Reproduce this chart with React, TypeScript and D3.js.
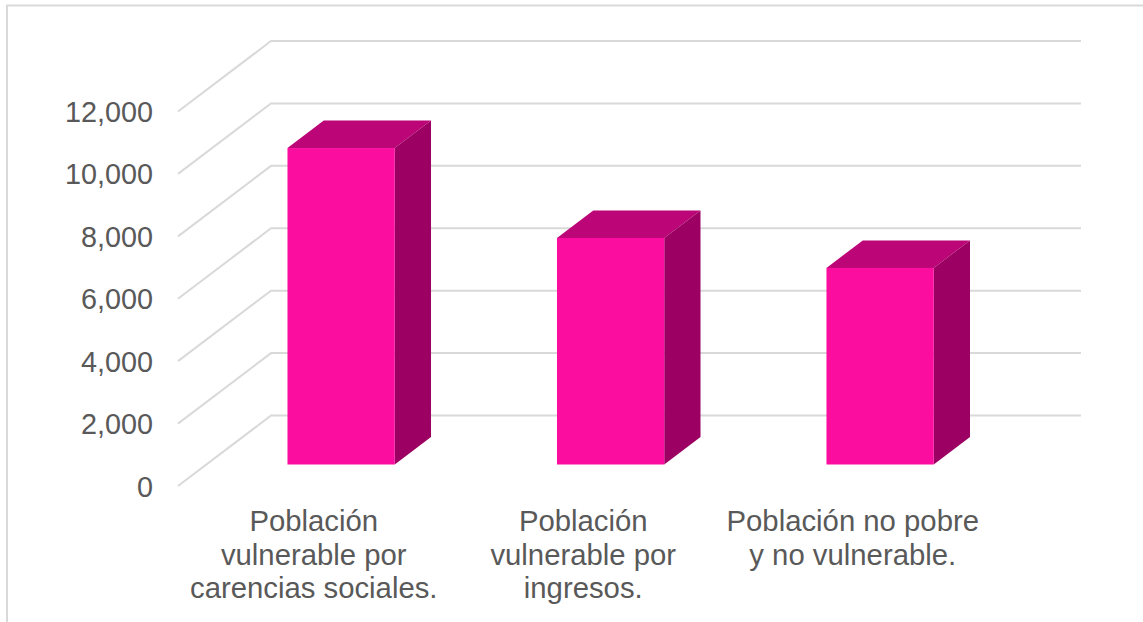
import React, { useEffect, useRef } from 'react';
import * as d3 from 'd3';

const categories = [
  ['Población', 'vulnerable por', 'carencias sociales.'],
  ['Población', 'vulnerable por', 'ingresos.'],
  ['Población no pobre', 'y no vulnerable.'],
];
const values = [10140, 7260, 6300];
const ticks = [0, 2000, 4000, 6000, 8000, 10000, 12000];

const width = 1143;
const height = 622;
// front plane of the 3D box, and how far the back wall is shifted
const plot = { left: 178, right: 988, top: 111.5, bottom: 486 };
const depth = { x: 93, y: -70.5 };
// bars sit in the middle of the floor, this is the share of depth before/after them
const barStart = 0.305;
const barEnd = 0.695;
const grid = '#d9d9d9';
const textColor = '#595959';
const font = '"Liberation Sans", Arial, sans-serif';

const App = () => {
  const chartRef = useRef<SVGSVGElement>(null);

  useEffect(() => {
    const svg = d3.select(chartRef.current);
    svg.selectAll('*').remove();

    const yScale = d3.scaleLinear().domain([0, 12000]).range([plot.bottom, plot.top]);
    const xScale = d3.scaleBand<number>()
      .domain(d3.range(values.length))
      .range([plot.left, plot.right - 1.5])
      .padding(0.602)
      .paddingOuter(0.301);

    // outer chart border, cropped by the picture on the right and bottom
    svg.append('path')
      .attr('d', `M7,${height}V5.5H${width}`)
      .attr('fill', 'none')
      .attr('stroke', grid)
      .attr('stroke-width', 2);

    svg.append('g').selectAll('path')
      .data(ticks)
      .enter()
      .append('path')
      .attr('d', d => `M${plot.left},${yScale(d)}L${plot.left + depth.x},${yScale(d) + depth.y}H${plot.right + depth.x}`)
      .attr('fill', 'none')
      .attr('stroke', grid)
      .attr('stroke-width', 2);

    svg.append('g').selectAll('text')
      .data(ticks)
      .enter()
      .append('text')
      .attr('x', 153)
      .attr('y', d => yScale(d))
      .attr('dy', '0.365em')
      .attr('text-anchor', 'end')
      .attr('font-family', font)
      .attr('font-size', 28.8)
      .attr('fill', textColor)
      .text(d => d3.format(',')(d));

    const bars = svg.append('g').selectAll('g')
      .data(values)
      .enter()
      .append('g');

    const x0 = (i: number) => xScale(i)! + depth.x * barStart;
    const x1 = (i: number) => x0(i) + xScale.bandwidth();
    const yBase = plot.bottom + depth.y * barStart;
    const yTop = (v: number) => yScale(v) + depth.y * barStart;
    const dx = depth.x * (barEnd - barStart);
    const dy = depth.y * (barEnd - barStart);

    // top face
    bars.append('path')
      .attr('d', (d, i) => `M${x0(i)},${yTop(d)}l${dx},${dy}H${x1(i) + dx}L${x1(i)},${yTop(d)}Z`)
      .attr('fill', '#bc0577');
    // side face
    bars.append('path')
      .attr('d', (d, i) => `M${x1(i)},${yTop(d)}l${dx},${dy}V${yBase + dy}L${x1(i)},${yBase}Z`)
      .attr('fill', '#9c0062');
    // front face
    bars.append('rect')
      .attr('x', (d, i) => x0(i))
      .attr('y', d => yTop(d))
      .attr('width', xScale.bandwidth())
      .attr('height', d => yBase - yTop(d))
      .attr('fill', '#fb0d9f');

    const labels = svg.append('g').selectAll('text')
      .data(categories)
      .enter()
      .append('text')
      .attr('text-anchor', 'middle')
      .attr('font-family', font)
      .attr('font-size', 29.3)
      .attr('fill', textColor);

    labels.selectAll('tspan')
      .data((d, i) => d.map(line => ({ line, i })))
      .enter()
      .append('tspan')
      .attr('x', d => xScale(d.i)! + xScale.bandwidth() / 2 + 1)
      .attr('y', (d, j) => 531 + j * 33.5)
      .text(d => d.line);
  });

  return (
    <svg
      viewBox={`0, 0, ${width}, ${height}`}
      width={width}
      height={height}
      ref={chartRef}
      style={{ position: 'absolute', left: 0, top: 0, background: '#fff' }}
    />
  );
};

export default App;
